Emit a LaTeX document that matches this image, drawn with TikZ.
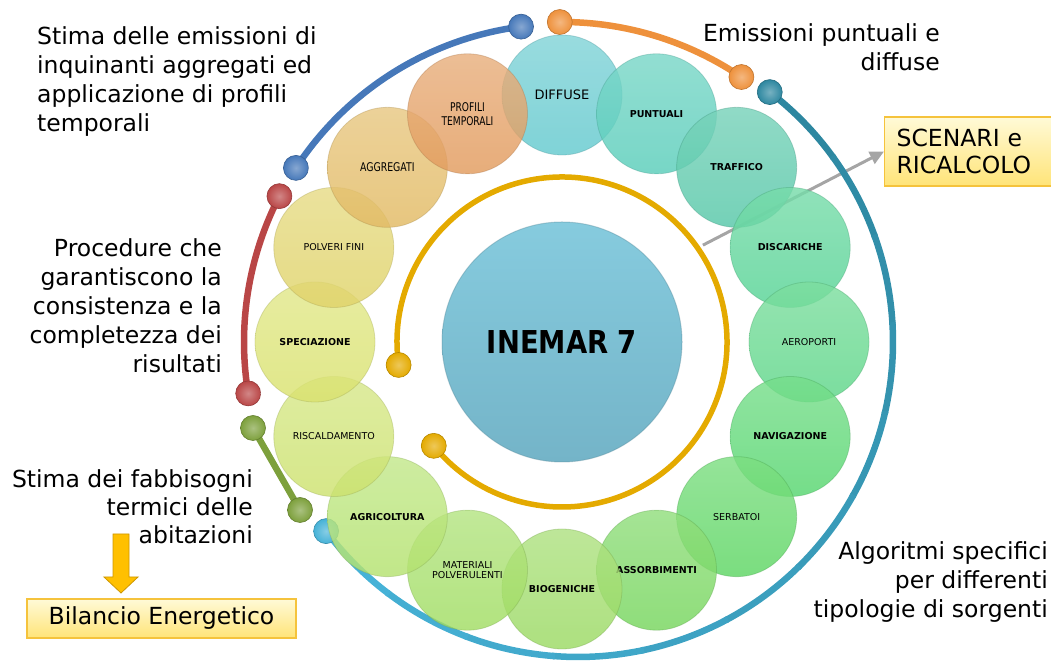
\documentclass[tikz,border=0pt]{standalone}
\usepackage{fontspec}
\usepackage{graphicx}
\setmainfont{DejaVu Sans}
\usetikzlibrary{calc,arrows.meta}
\definecolor{cDiff}{RGB}{99,201,206}
\definecolor{cPunt}{RGB}{89,205,186}
\definecolor{cTraf}{RGB}{86,199,168}
\definecolor{cDisc}{RGB}{86,211,149}
\definecolor{cAero}{RGB}{93,214,136}
\definecolor{cNavi}{RGB}{86,214,111}
\definecolor{cSerb}{RGB}{93,214,99}
\definecolor{cAsso}{RGB}{118,214,93}
\definecolor{cBiog}{RGB}{155,218,99}
\definecolor{cMate}{RGB}{161,221,99}
\definecolor{cAgri}{RGB}{180,226,111}
\definecolor{cRisc}{RGB}{205,226,111}
\definecolor{cSpec}{RGB}{218,226,111}
\definecolor{cPolv}{RGB}{224,211,105}
\definecolor{cAggr}{RGB}{226,186,99}
\definecolor{cProf}{RGB}{226,155,93}
\definecolor{coreTop}{RGB}{134,203,222}
\definecolor{coreBot}{RGB}{116,180,200}
\definecolor{arcBlue}{RGB}{70,120,185}
\definecolor{arcOrange}{RGB}{238,145,60}
\definecolor{arcTeal}{RGB}{45,135,160}
\definecolor{arcCyan}{RGB}{70,178,215}
\definecolor{arcRed}{RGB}{185,70,70}
\definecolor{arcGreen}{RGB}{125,160,60}
\definecolor{arcGold}{RGB}{228,170,0}
\definecolor{boxBorder}{RGB}{245,195,60}
\definecolor{boxTop}{RGB}{255,250,215}
\definecolor{boxBot}{RGB}{255,228,120}
\definecolor{arrowGray}{RGB}{165,165,165}
\definecolor{blockFill}{RGB}{255,192,0}
\definecolor{blockDraw}{RGB}{205,150,0}
\tikzset{
  ringc/.style={circle, minimum size=120pt, inner sep=0pt, align=center,
    top color=#1!80!white, bottom color=#1, fill opacity=0.82, text opacity=1,
    draw=#1!75!black, draw opacity=0.35, line width=0.8pt},
  tube/.style={line width=6.5pt, line cap=round},
  knob/.style={circle, minimum size=25pt, inner sep=0pt, inner color=#1!65!white,
    outer color=#1, draw=#1!80!black, line width=0.6pt},
  bigtxt/.style={inner sep=0pt, font=\fontsize{23.5}{29}\selectfont},
  ybox/.style={draw=boxBorder, line width=1.2pt, top color=boxTop, bottom color=boxBot,
    font=\fontsize{23.5}{27}\selectfont},
  lr/.style={font=\fontsize{9.5}{10.5}\selectfont},
  lb/.style={font=\bfseries\fontsize{9.5}{10.5}\selectfont}
}
\begin{document}
\begin{tikzpicture}[x=1pt,y=1pt]
\useasboundingbox (0,0) rectangle (1051,663);
\coordinate (C) at (562,321);
\coordinate (CT) at (578,321);

% scenari box and gray arrow
\node[ybox, anchor=west, minimum width=180pt, minimum height=69pt, text width=156pt,
  align=left, inner xsep=12pt] (scen) at (884,511.5) {SCENARI e\\RICALCOLO};
\coordinate (gs) at ($(C)+(34.5:171)$);
\draw[arrowGray, line width=3pt, -{Triangle[length=14pt,width=13pt]}] (gs) -- (scen.west);

% inner gold arc
\draw[tube, arcGold, line width=5.5pt] ($(C)+(188:165)$) arc[start angle=188, end angle=-141, radius=165];
\node[knob=arcGold] (y1) at ($(C)+(188:165)$) {};
\node[knob=arcGold] (y2) at ($(C)+(-141:165)$) {};

% outer arcs
\draw[tube, arcBlue] ($(C)+(146.8:318)$) arc[start angle=146.8, end angle=97.4, radius=318];
\node[knob=arcBlue] (b1) at ($(C)+(146.8:318)$) {};
\node[knob=arcBlue] (b2) at ($(C)+(97.4:318)$) {};
\draw[tube, arcOrange] ($(C)+(90.4:320)$) arc[start angle=90.4, end angle=55.9, radius=320];
\node[knob=arcOrange] (o1) at ($(C)+(90.4:320)$) {};
\node[knob=arcOrange] (o2) at ($(C)+(55.9:320)$) {};
\foreach \i in {0,...,11}{
  \pgfmathsetmacro{\sa}{52.5-\i*16.3}
  \pgfmathsetmacro{\ea}{\sa-16.8}
  \pgfmathtruncatemacro{\mx}{100-\i*100/11}
  \draw[line width=6.5pt, arcTeal!\mx!arcCyan] ($(CT)+(\sa:315)$) arc[start angle=\sa, end angle=\ea, radius=315];
}
\node[knob=arcTeal] (t1) at ($(CT)+(52.5:315)$) {};
\node[knob=arcCyan] (t2) at ($(CT)+(-143.1:315)$) {};
\draw[tube, arcRed] ($(C)+(152.7:318)$) arc[start angle=152.7, end angle=189.3, radius=318];
\node[knob=arcRed] (r1) at ($(C)+(152.7:318)$) {};
\node[knob=arcRed] (r2) at ($(C)+(189.3:318)$) {};
\coordinate (g1p) at (253,235);
\coordinate (g2p) at (300,153);
\draw[tube, arcGreen] (g1p) -- (g2p);
\node[knob=arcGreen] (g1) at (g1p) {};
\node[knob=arcGreen] (g2) at (g2p) {};

% central node
\node[circle, minimum size=240pt, inner sep=0pt, top color=coreTop, bottom color=coreBot,
  draw=coreBot!80!black, draw opacity=0.4, line width=1pt] (core) at (C)
  {\fontsize{31.5}{32}\selectfont\bfseries\scalebox{0.87}[1]{INEMAR 7}};

% ring of categories
\node[ringc=cDiff, font=\fontsize{13}{14}\selectfont] (diff) at ($(C)+(90:247)$) {DIFFUSE};
\node[ringc=cPunt, lb] (punt) at ($(C)+(67.5:247)$) {PUNTUALI};
\node[ringc=cTraf, lb] (traf) at ($(C)+(45:247)$) {TRAFFICO};
\node[ringc=cDisc, lb] (disc) at ($(C)+(22.5:247)$) {DISCARICHE};
\node[ringc=cAero, lr] (aero) at ($(C)+(0:247)$) {AEROPORTI};
\node[ringc=cNavi, lb] (navi) at ($(C)+(-22.5:247)$) {NAVIGAZIONE};
\node[ringc=cSerb, lr] (serb) at ($(C)+(-45:247)$) {SERBATOI};
\node[ringc=cAsso, lb] (asso) at ($(C)+(-67.5:247)$) {ASSORBIMENTI};
\node[ringc=cBiog, lb] (biog) at ($(C)+(-90:247)$) {BIOGENICHE};
\node[ringc=cMate, lr] (mate) at ($(C)+(-112.5:247)$) {MATERIALI\\POLVERULENTI};
\node[ringc=cAgri, lb] (agri) at ($(C)+(-135:247)$) {AGRICOLTURA};
\node[ringc=cRisc, lr] (risc) at ($(C)+(-157.5:247)$) {RISCALDAMENTO};
\node[ringc=cSpec, lb] (spec) at ($(C)+(180:247)$) {SPECIAZIONE};
\node[ringc=cPolv, lr] (polv) at ($(C)+(157.5:247)$) {POLVERI FINI};
\node[ringc=cAggr, font=\fontsize{12}{14}\selectfont] (aggr) at ($(C)+(135:247)$) {\scalebox{0.78}[1]{AGGREGATI}};
\node[ringc=cProf, font=\fontsize{12}{14}\selectfont] (prof) at ($(C)+(112.5:247)$)
  {\scalebox{0.76}[1]{PROFILI}\\\scalebox{0.76}[1]{TEMPORALI}};

% text blocks
\node[bigtxt, anchor=north west, align=left] (tl) at (37,636.5)
  {Stima delle emissioni di\\inquinanti aggregati ed\\applicazione di profili\\temporali};
\node[bigtxt, anchor=north east, align=right] (tr) at (940,639.5)
  {Emissioni puntuali e\\diffuse};
\node[bigtxt, anchor=north east, align=right] (ml) at (222,425)
  {Procedure che\\garantiscono la\\consistenza e la\\completezza dei\\risultati};
\node[bigtxt, anchor=north east, align=right, font=\fontsize{23.5}{28}\selectfont] (bl) at (253,194)
  {Stima dei fabbisogni\\termici delle\\abitazioni};
\node[bigtxt, anchor=north east, align=right] (br) at (1048,122)
  {Algoritmi specifici\\per differenti\\tipologie di sorgenti};

% bilancio box and block arrow
\node[ybox, minimum width=269pt, minimum height=39pt, inner sep=0pt] (bil) at (161.5,44.5) {Bilancio Energetico};
\coordinate (ya) at (121,129);
\filldraw[fill=blockFill, draw=blockDraw, line width=0.8pt]
  (ya) ++(-8,0) -- ++(16,0) -- ++(0,-43) -- ++(9,0) -- ++(-17,-16) -- ++(-17,16) -- ++(9,0) -- cycle;
\end{tikzpicture}
\end{document}
